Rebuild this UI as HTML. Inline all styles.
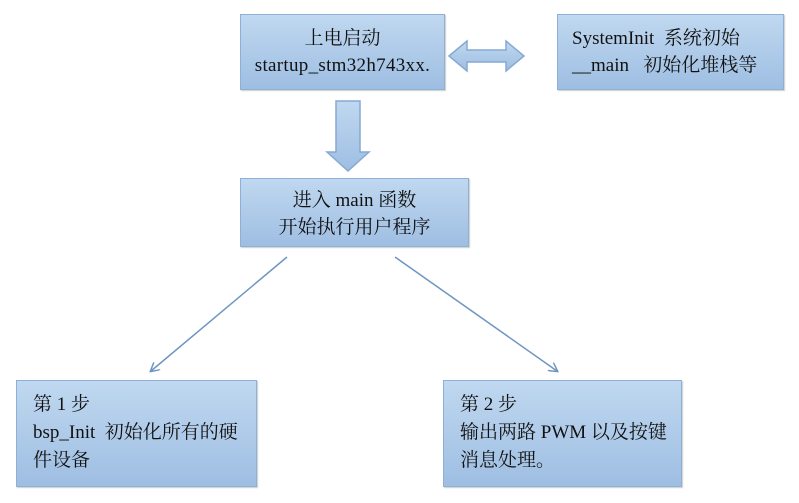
<!DOCTYPE html>
<html><head><meta charset="utf-8"><style>
body{margin:0;width:799px;height:503px;background:#fff;position:relative;overflow:hidden;font-family:"Liberation Serif","Noto Serif CJK SC",serif;font-size:19px;color:#111}
.b{position:absolute;box-sizing:border-box;border:1.5px solid #8eafd6;background:linear-gradient(#c0d8f0,#9ebee2);box-shadow:1px 1px 1px #ccc;white-space:nowrap}
.c{text-align:center;line-height:27px}
.l{line-height:28px;padding-left:16px}
</style></head><body>
<div class="b c" style="left:240px;top:14px;width:205px;height:76px;padding-top:10px">上电启动<br><span style="letter-spacing:0.3px">startup_stm32h743xx.</span></div>
<div class="b" style="left:557px;top:14px;width:227px;height:76px;padding:10px 0 0 14px;line-height:27px">SystemInit&nbsp; 系统初始<br>__main&nbsp;&nbsp; 初始化堆栈等</div>
<div class="b c" style="left:240px;top:178px;width:229px;height:69px;padding-top:8px">进入 main 函数<br>开始执行用户程序</div>
<div class="b l" style="left:16px;top:380px;width:241px;height:107px;padding-top:10px">第 1 步<br>bsp_Init&nbsp; 初始化所有的硬<br>件设备</div>
<div class="b l" style="left:443px;top:380px;width:239px;height:107px;padding-top:10px">第 2 步<br>输出两路 PWM 以及按键<br>消息处理。</div>
<svg width="799" height="503" style="position:absolute;left:0;top:0">
<defs><linearGradient id="g" x1="0" y1="0" x2="0" y2="1"><stop offset="0" stop-color="#c0d8f0"/><stop offset="1" stop-color="#9ebee2"/></linearGradient>
<marker id="m" markerWidth="10" markerHeight="10" refX="8" refY="5" orient="auto" markerUnits="userSpaceOnUse"><path d="M0,0 L9,5 L0,10" fill="none" stroke="#6f95c2" stroke-width="1.5"/></marker></defs>
<path d="M449,56 L467,41 L467,50 L506,50 L506,41 L524,56 L506,71 L506,62 L467,62 L467,71 Z" fill="url(#g)" stroke="#86a9d2" stroke-width="1.5"/>
<path d="M336,101 L360,101 L360,152 L369,152 L348,171 L327,152 L336,152 Z" fill="url(#g)" stroke="#86a9d2" stroke-width="1.5"/>
<line x1="287" y1="257" x2="151" y2="371" stroke="#6f95c2" stroke-width="1.5" marker-end="url(#m)"/>
<line x1="395" y1="257" x2="557" y2="371" stroke="#6f95c2" stroke-width="1.5" marker-end="url(#m)"/>
</svg>
</body></html>
